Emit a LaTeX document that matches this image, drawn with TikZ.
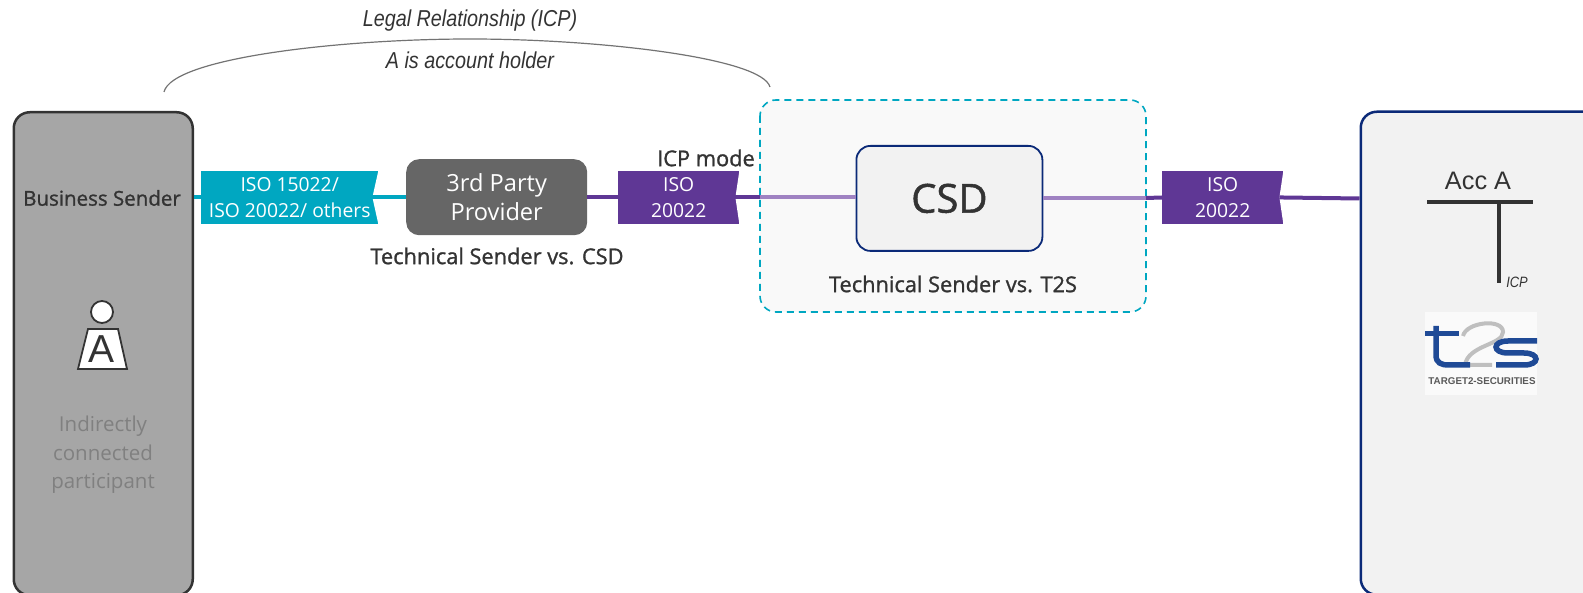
\documentclass[tikz,border=0pt]{standalone}
\usepackage{fontspec}
\setmainfont{Open Sans}
\newfontfamily\arialfont{Liberation Sans}
\newfontfamily\narrowfont[FakeStretch=0.86]{Liberation Sans}
\newfontfamily\capfont[FakeBold=1.2]{Open Sans}
\usetikzlibrary{calc}
\definecolor{tealc}{HTML}{00A7C1}
\definecolor{purplec}{HTML}{5F3795}
\definecolor{lilacc}{HTML}{9F82C2}
\definecolor{navyc}{HTML}{0B2A78}
\definecolor{darkc}{HTML}{333333}
\definecolor{t2sblue}{HTML}{1F4A96}
\tikzset{
  panel/.style={draw,rounded corners=16,line width=2.5pt,inner sep=0,anchor=north west},
  isotag/.style={draw=none,inner sep=0,text=white,align=center,font=\fontsize{19.3}{26}\selectfont,minimum height=53.5,anchor=west},
  caption/.style={inner sep=0,text=darkc,font=\fontsize{21.8}{24}\capfont},
  remark/.style={inner sep=0,text=darkc,font=\fontsize{23}{25}\narrowfont\itshape}
}
\begin{document}
\begin{tikzpicture}[x=1pt,y=-1pt,>=latex]
        \useasboundingbox (0,0) rectangle (1583,593);
        % boxes
        \node[panel,draw=darkc,fill=black!35,minimum width=179,minimum height=483] (sender) at (12.5,111) {};
        \node[panel,draw=navyc,fill=black!5,minimum width=260,minimum height=483] (t2s) at (1359.5,110.5) {};
        \draw[tealc,dashed,line width=1.6pt,dash pattern=on 7pt off 5pt,fill=black!2.5,rounded corners=16] (760,100) rectangle (1146,312);
        \node[inner sep=0,rounded corners=13,fill=black!60,minimum width=181,minimum height=76,anchor=north west] (third) at (406,159) {};
        \node[panel,draw=navyc,fill=black!5,rounded corners=14,line width=1.8pt,minimum width=186,minimum height=105] (csd) at (855.5,145) {};
        \node[inner sep=0,text=darkc,font=\fontsize{40}{42}\capfont] (csdlabel) at (csd.center) {CSD};
        \node[inner sep=0,text=white,align=center,font=\fontsize{23.6}{28.5}\selectfont] (thirdlabel) at (third.center) {3rd Party\\Provider};
        % tags
        \node[isotag,fill=tealc,minimum width=177] (iso1) at (201,197.5) {ISO 15022/\\ISO 20022/ others};
        \node[isotag,fill=purplec,minimum width=121] (iso2) at (618,197.5) {ISO\\20022};
        \node[isotag,fill=purplec,minimum width=121] (iso3) at (1162,197.5) {ISO\\20022};
        \fill[white] (iso1.north east) -- ++(-6,26.75) -- (iso1.south east) -- cycle;
        \fill[white] (iso2.north east) -- ++(-4,26.75) -- (iso2.south east) -- cycle;
        \fill[white] (iso3.north east) -- ++(-4,26.75) -- (iso3.south east) -- cycle;
        % connectors
        \coordinate (sendport) at (sender.east |- iso1.west);
        \coordinate (dashin) at (760,197.5);
        \coordinate (dashout) at (1146,198);
        \coordinate (t2sport) at (t2s.west |- 0,198.5);
        \draw[tealc,line width=4pt] (sendport) -- (iso1.west);
        \draw[tealc,line width=4pt,shorten <=-6pt] (iso1.east) -- (third.west |- iso1.east);
        \draw[purplec,line width=4pt] (third.east |- iso2.west) -- (iso2.west);
        \draw[purplec,line width=4pt,shorten <=-4pt] (iso2.east) -- (dashin);
        \draw[lilacc,line width=4pt] (dashin) -- (csd.west |- dashin);
        \draw[lilacc,line width=4pt] (csd.east |- dashout) -- (dashout);
        \draw[purplec,line width=4pt] (dashout) -- (iso3.west);
        \draw[purplec,line width=4pt,shorten <=-4pt] (iso3.east) -- (t2sport);
        % texts
        \node[caption,font=\fontsize{20.5}{24}\capfont] (business) at (102,198) {Business Sender};
        \node[caption] (techcsd) at (497,256) {Technical Sender vs. CSD};
        \node[caption] (techt2s) at (953,284) {Technical Sender vs. T2S};
        \node[caption] (mode) at (706,158) {ICP mode};
        \node[inner sep=0,text=black!50,align=center,font=\fontsize{20.5}{28.5}\selectfont] (indirect) at (103,455) {Indirectly\\connected\\participant};
        % arc
        \node[remark] (legal) at (470,21) {Legal Relationship (ICP)};
        \node[remark] (holder) at (470,60) {A is account holder};
        \coordinate (arcl) at (164,92);
        \coordinate (arctop) at (470,39);
        \coordinate (arcr) at (770,87);
        \draw[black!55,line width=1.2pt] (arcl) .. controls (172,58) and (340,39) .. (arctop) .. controls (600,39) and (762,58) .. (arcr);
        % person
        \node[draw=darkc,fill=white,circle,line width=1.8pt,inner sep=0,minimum size=22] (head) at (102,312) {};
        \coordinate (p1) at (88,329);
        \coordinate (p2) at (118,329);
        \coordinate (p3) at (127,369);
        \coordinate (p4) at (78,369);
        \draw[darkc,fill=white,line width=1.8pt] (p1) -- (p2) -- (p3) -- (p4) -- cycle;
        \node[inner sep=0,text=darkc,font=\fontsize{39}{41}\arialfont] (letter) at (102,349) {A};
        % account
        \node[inner sep=0,text=darkc,font=\fontsize{25.3}{28}\arialfont] (acc) at (1478,181) {Acc A};
        \coordinate (barl) at (1427,202);
        \coordinate (barr) at (1533,202);
        \coordinate (barm) at (1499,202);
        \coordinate (bare) at (1499,283);
        \draw[darkc,line width=3.5pt] (barl) -- (barr);
        \draw[darkc,line width=3.5pt] (barm) -- (bare);
        \node[inner sep=0,text=darkc,font=\fontsize{15}{16}\narrowfont\itshape] (icp) at (1517,282) {ICP};
        % logo
        \node[inner sep=0,fill=black!2,minimum width=112,minimum height=83,anchor=north west] (logo) at (1425,312) {};
        \draw[black!25,line width=4pt] (1463,336) .. controls (1466,322) and (1503,318) .. (1503,332) .. controls (1503,345) and (1468,345) .. (1465,365) -- (1492,365);
        \draw[t2sblue,line width=5.5pt] (1436,326) -- (1436,355) .. controls (1436,363) and (1441,365) .. (1449,365) -- (1470,365);
        \draw[t2sblue,line width=5pt] (1425,334) -- (1459,334);
        \draw[t2sblue,line width=5.5pt] (1537,341) -- (1508,341) .. controls (1492,341) and (1492,353) .. (1508,353) -- (1524,353) .. controls (1540,353) and (1540,365) .. (1524,365) -- (1496,365);
        \node[inner sep=0,text=black!65,font=\fontsize{9.8}{11}\arialfont\bfseries] (target) at (1482,381) {TARGET2-SECURITIES};
      \end{tikzpicture}
\end{document}
